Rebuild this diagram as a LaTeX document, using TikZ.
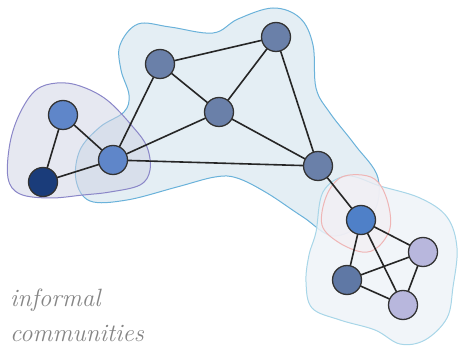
\documentclass[tikz,border=0pt]{standalone}
\pgfdeclarelayer{blobs}
\pgfdeclarelayer{links}
\pgfsetlayers{blobs,links,main}
\begin{document}
\begin{tikzpicture}[x=1pt,y=-1pt,
  vtx/.style={circle,draw=black!80,line width=1.3pt,minimum size=29pt,inner sep=0pt},
  lnk/.style={draw=black!85,line width=1.6pt},
  blob/.style={line width=1pt},
  lbl/.style={anchor=base west,inner sep=0pt,text=txt,font=\fontsize{25}{30}\selectfont\itshape}]
\definecolor{bigfill}{HTML}{E4EEF4}
\definecolor{bigline}{HTML}{6AB2DA}
\definecolor{purfill}{HTML}{CDD1E3}
\definecolor{purline}{HTML}{8A86C8}
\definecolor{smfill}{HTML}{EEF3F8}
\definecolor{smline}{HTML}{A8D6E8}
\definecolor{pkfill}{HTML}{F3EEF3}
\definecolor{pkline}{HTML}{EFB5B5}
\definecolor{nA}{HTML}{5F86C9}
\definecolor{nB}{HTML}{1A3C7A}
\definecolor{nBig}{HTML}{6A80A9}
\definecolor{nH}{HTML}{4F80C8}
\definecolor{nLav}{HTML}{B8B7DD}
\definecolor{nJ}{HTML}{5F78A5}
\definecolor{txt}{HTML}{858585}
\useasboundingbox (0,0) rectangle (458,347);
\begin{pgfonlayer}{blobs}
% big blob
\draw[blob,draw=bigline,fill=bigfill] plot[smooth cycle,tension=0.6] coordinates {
 (120,45) (138,24) (170,27) (213,33) (238,19) (273,8) (300,18) (313,45) (316,88)
 (330,113) (355,145) (378,178) (372,215) (335,236) (303,217) (267,193) (237,178)
 (215,177) (177,187) (127,200) (90,201) (76,180) (80,150) (100,127) (124,112) (129,95) (121,70)};
% purple blob
\draw[blob,draw=purline,fill=purfill,fill opacity=0.5] plot[smooth cycle,tension=0.6] coordinates {
 (57,83) (80,86) (107,100) (133,127) (147,147) (150,170) (140,185) (110,192) (83,195)
 (50,198) (20,194) (8,178) (10,143) (20,113) (36,90)};
% small blob
\draw[blob,draw=smline,fill=smfill,fill opacity=0.85] plot[smooth cycle,tension=0.6] coordinates {
 (323,192) (347,176) (380,186) (420,198) (447,217) (457,248) (453,287) (447,318)
 (425,340) (400,344) (375,330) (340,320) (312,308) (306,282) (309,255) (316,232)};
% pink blob
\draw[blob,draw=pkline,fill=pkfill,fill opacity=0.7] plot[smooth cycle,tension=0.6] coordinates {
 (362,175) (378,182) (388,203) (390,228) (378,247) (362,252) (338,242) (322,225) (326,197) (340,178)};
\end{pgfonlayer}
% nodes
\node[vtx,fill=nA] (A) at (63,115) {};
\node[vtx,fill=nB] (B) at (43,182) {};
\node[vtx,fill=nA] (C) at (113,160) {};
\node[vtx,fill=nBig] (D) at (160,64) {};
\node[vtx,fill=nBig] (E) at (276,37) {};
\node[vtx,fill=nBig] (F) at (219,112) {};
\node[vtx,fill=nBig] (G) at (318,166) {};
\node[vtx,fill=nH] (H) at (361,220) {};
\node[vtx,fill=nLav] (I) at (423,252) {};
\node[vtx,fill=nJ] (J) at (347,280) {};
\node[vtx,fill=nLav] (K) at (403,305) {};
% edges
\begin{pgfonlayer}{links}
\foreach \a/\b in {A/B,A/C,B/C,C/D,C/F,C/G,D/E,D/F,E/F,E/G,F/G,G/H,H/I,H/J,H/K,J/I,J/K,I/K}
  \path[lnk] (\a.center) -- (\b.center);
\end{pgfonlayer}
% text
\node[lbl] (t1) at (10,307) {informal};
\node[lbl] (t2) at (10,342) {communities};
\end{tikzpicture}
\end{document}
